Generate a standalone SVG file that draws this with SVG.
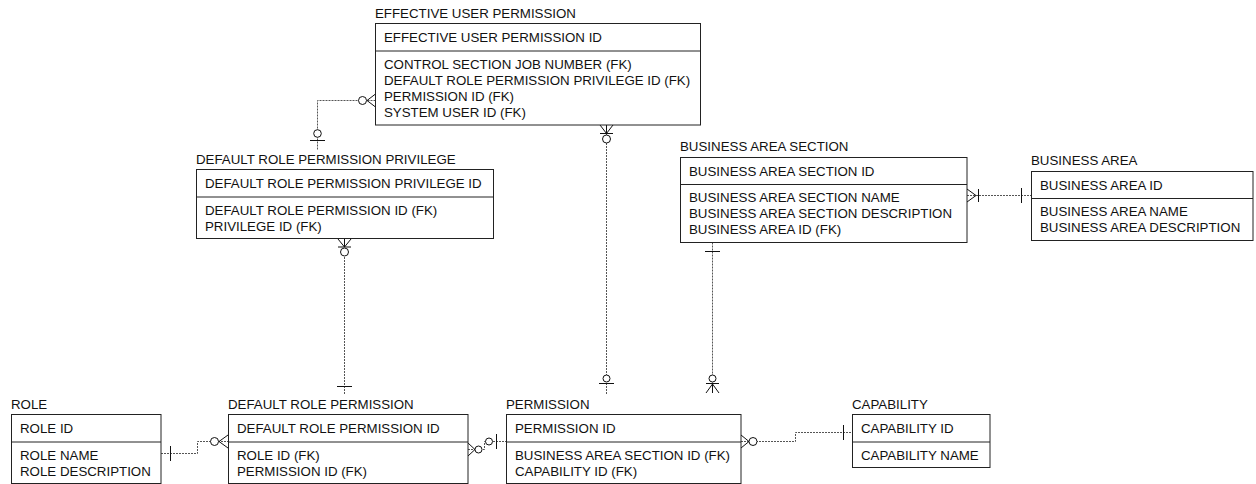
<svg xmlns="http://www.w3.org/2000/svg" width="1256" height="484" viewBox="0 0 1256 484">
<style>
.t{font-family:"Liberation Sans",Arial,sans-serif;font-size:13.3px;fill:#111}
.box{fill:#fff;stroke:#222;stroke-width:1}
.div{stroke:#222;stroke-width:1}
.conn{fill:none;stroke:#555;stroke-width:1;stroke-dasharray:2 1}
.sym{fill:none;stroke:#111;stroke-width:1}
.circ{fill:#fff;stroke:#111;stroke-width:1}
</style>
<rect width="1256" height="484" fill="#fff"/>

<g id="connectors">
  <!-- EUP - DRPP -->
  <path class="conn" d="M375.5,100.5 H317.5 V150"/>
  <path class="sym" d="M375.5,94 L367,100.5 L375.5,107"/>
  <circle class="circ" cx="362.5" cy="100.5" r="4"/>
  <circle class="circ" cx="317.5" cy="133.5" r="3.8"/>
  <path class="sym" d="M310,140.5 H325"/>
  <!-- EUP - PERMISSION -->
  <path class="conn" d="M606.5,125 V395"/>
  <path class="sym" d="M600,125 L606.5,133.5 L613,125 M600,133.5 H613 M606.5,125 V134"/>
  <circle class="circ" cx="606.5" cy="139" r="4"/>
  <circle class="circ" cx="606.5" cy="378.5" r="3.5"/>
  <path class="sym" d="M599,383.5 H614"/>
  <!-- DRPP - DRP -->
  <path class="conn" d="M344.5,239 V394"/>
  <path class="sym" d="M338,239 L344.5,247 L351,239 M338,247 H351 M344.5,239 V247"/>
  <circle class="circ" cx="344.5" cy="252" r="4"/>
  <path class="sym" d="M337,386.5 H352"/>
  <!-- BAS - PERMISSION -->
  <path class="conn" d="M712.5,242.5 V393"/>
  <path class="sym" d="M705,251.5 H720"/>
  <circle class="circ" cx="712.5" cy="378.5" r="3.5"/>
  <path class="sym" d="M706,383.5 H719 M706,393 L712.5,384 L719,393 M712.5,384 V393"/>
  <!-- BAS - BA -->
  <path class="conn" d="M967,195.5 H1031"/>
  <path class="sym" d="M967,189 L976,195.5 L967,202 M978.5,189 V202"/>
  <path class="sym" d="M1021.5,188 V203"/>
  <!-- ROLE - DRP -->
  <path class="conn" d="M161,453.5 H197.5 V441.5 H228"/>
  <path class="sym" d="M170.5,446 V461"/>
  <path class="sym" d="M228,435 L219,441.5 L228,448"/>
  <circle class="circ" cx="214.5" cy="441.5" r="4"/>
  <!-- DRP - PERMISSION -->
  <path class="conn" d="M468,449.5 H484.5 V441.5 H506"/>
  <path class="sym" d="M468,443 L475,449.5 L468,456"/>
  <circle class="circ" cx="478.5" cy="449.5" r="3.5"/>
  <circle class="circ" cx="489" cy="441.5" r="3.5"/>
  <path class="sym" d="M496.5,434 V449"/>
  <!-- PERMISSION - CAPABILITY -->
  <path class="conn" d="M741,441.5 H795.5 V432.5 H852"/>
  <path class="sym" d="M741,435 L749,441.5 L741,448"/>
  <circle class="circ" cx="753" cy="441.5" r="4"/>
  <path class="sym" d="M843.5,425 V440"/>
</g>

<g id="effective-user-permission">
  <text class="t" x="375" y="17.5">EFFECTIVE USER PERMISSION</text>
  <rect class="box" x="375.5" y="23.5" width="325" height="101.5"/>
  <line class="div" x1="375.5" y1="51" x2="700.5" y2="51"/>
  <text class="t" x="384" y="42">EFFECTIVE USER PERMISSION ID</text>
  <text class="t" x="384" y="68.5">CONTROL SECTION JOB NUMBER (FK)</text>
  <text class="t" x="384" y="84.6">DEFAULT ROLE PERMISSION PRIVILEGE ID (FK)</text>
  <text class="t" x="384" y="100.7">PERMISSION ID (FK)</text>
  <text class="t" x="384" y="116.8">SYSTEM USER ID (FK)</text>
</g>

<g id="default-role-permission-privilege">
  <text class="t" x="196" y="163.5">DEFAULT ROLE PERMISSION PRIVILEGE</text>
  <rect class="box" x="196.5" y="169.5" width="297" height="69"/>
  <line class="div" x1="196.5" y1="197" x2="493.5" y2="197"/>
  <text class="t" x="205" y="188">DEFAULT ROLE PERMISSION PRIVILEGE ID</text>
  <text class="t" x="205" y="214.5">DEFAULT ROLE PERMISSION ID (FK)</text>
  <text class="t" x="205" y="230.6">PRIVILEGE ID (FK)</text>
</g>

<g id="business-area-section">
  <text class="t" x="680" y="151">BUSINESS AREA SECTION</text>
  <rect class="box" x="680.5" y="157.5" width="286.5" height="85"/>
  <line class="div" x1="680.5" y1="184.5" x2="967" y2="184.5"/>
  <text class="t" x="689" y="175.5">BUSINESS AREA SECTION ID</text>
  <text class="t" x="689" y="202">BUSINESS AREA SECTION NAME</text>
  <text class="t" x="689" y="218.1">BUSINESS AREA SECTION DESCRIPTION</text>
  <text class="t" x="689" y="234.2">BUSINESS AREA ID (FK)</text>
</g>

<g id="business-area">
  <text class="t" x="1031" y="165">BUSINESS AREA</text>
  <rect class="box" x="1031.5" y="171.5" width="221.5" height="69"/>
  <line class="div" x1="1031.5" y1="198.5" x2="1253" y2="198.5"/>
  <text class="t" x="1040" y="189.5">BUSINESS AREA ID</text>
  <text class="t" x="1040" y="216">BUSINESS AREA NAME</text>
  <text class="t" x="1040" y="232.1">BUSINESS AREA DESCRIPTION</text>
</g>

<g id="role">
  <text class="t" x="11" y="408.5">ROLE</text>
  <rect class="box" x="11.5" y="414.5" width="149.5" height="69"/>
  <line class="div" x1="11.5" y1="442" x2="161" y2="442"/>
  <text class="t" x="20" y="433">ROLE ID</text>
  <text class="t" x="20" y="459.5">ROLE NAME</text>
  <text class="t" x="20" y="475.6">ROLE DESCRIPTION</text>
</g>

<g id="default-role-permission">
  <text class="t" x="228" y="408.5">DEFAULT ROLE PERMISSION</text>
  <rect class="box" x="228.5" y="414.5" width="239.5" height="69"/>
  <line class="div" x1="228.5" y1="442" x2="468" y2="442"/>
  <text class="t" x="237" y="433">DEFAULT ROLE PERMISSION ID</text>
  <text class="t" x="237" y="459.5">ROLE ID (FK)</text>
  <text class="t" x="237" y="475.6">PERMISSION ID (FK)</text>
</g>

<g id="permission">
  <text class="t" x="506" y="408.5">PERMISSION</text>
  <rect class="box" x="506.5" y="414.5" width="234.5" height="69"/>
  <line class="div" x1="506.5" y1="442" x2="741" y2="442"/>
  <text class="t" x="515" y="433">PERMISSION ID</text>
  <text class="t" x="515" y="459.5">BUSINESS AREA SECTION ID (FK)</text>
  <text class="t" x="515" y="475.6">CAPABILITY ID (FK)</text>
</g>

<g id="capability">
  <text class="t" x="852" y="408.5">CAPABILITY</text>
  <rect class="box" x="852.5" y="414.5" width="137.5" height="53"/>
  <line class="div" x1="852.5" y1="442" x2="990" y2="442"/>
  <text class="t" x="861" y="433">CAPABILITY ID</text>
  <text class="t" x="861" y="459.5">CAPABILITY NAME</text>
</g>
</svg>
